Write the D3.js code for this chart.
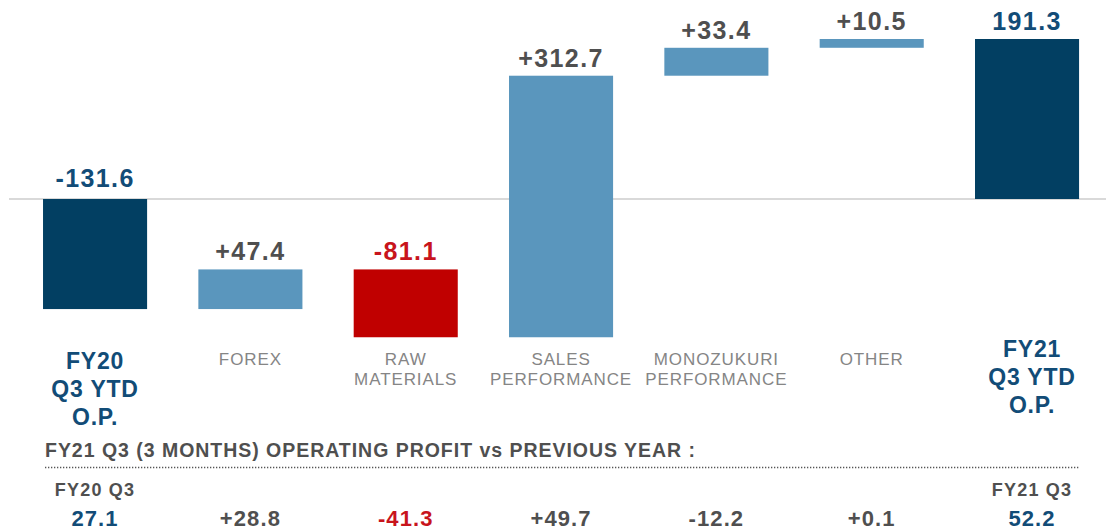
<!DOCTYPE html>
<html>
<head>
<meta charset="utf-8">
<script src="https://cdn.jsdelivr.net/npm/d3@7"></script>
<style>
  html, body { margin: 0; padding: 0; background: #ffffff; }
  svg { display: block; font-family: "Liberation Sans", Arial, Helvetica, sans-serif; }
</style>
</head>
<body>
<svg id="chart" width="1106" height="532"></svg>
<script>
// ---- data ----
const categories = ["FY20 Q3 YTD O.P.", "FOREX", "RAW MATERIALS", "SALES PERFORMANCE", "MONOZUKURI PERFORMANCE", "OTHER", "FY21 Q3 YTD O.P."];
const categoryLines = [["FY20", "Q3 YTD", "O.P."], ["FOREX"], ["RAW", "MATERIALS"], ["SALES", "PERFORMANCE"], ["MONOZUKURI", "PERFORMANCE"], ["OTHER"], ["FY21", "Q3 YTD", "O.P."]];
const barTypes = ["total", "delta", "delta", "delta", "delta", "delta", "total"];
const ytdValues = [-131.6, 47.4, -81.1, 312.7, 33.4, 10.5, 191.3];
const q3Values = [27.1, 28.8, -41.3, 49.7, -12.2, 0.1, 52.2];
const q3Headers = ["FY20 Q3", "", "", "", "", "", "FY21 Q3"];
const subtitle = "FY21 Q3 (3 MONTHS) OPERATING PROFIT vs PREVIOUS YEAR :";

// ---- colours ----
const NAVY = "#023f62", NAVY_TEXT = "#124c77", LIGHT = "#5a96bd", RED = "#c00000", RED_TEXT = "#c8141c";
const GRAY_TEXT = "#4f4f4f", CAT_TEXT = "#858585";

// ---- waterfall computation ----
let running = 0;
const bars = ytdValues.map((v, i) => {
  let y0, y1;
  if (barTypes[i] === "total") { y0 = 0; y1 = v; running = v; }
  else { y0 = running; y1 = running + v; running = y1; }
  return { cat: categories[i], lines: categoryLines[i], type: barTypes[i], value: v, y0, y1, q3: q3Values[i], head: q3Headers[i], i };
});

const svg = d3.select("#chart");
const x = d3.scaleBand().domain(categories).range([17.4, 1104.7]).paddingInner(0.33).paddingOuter(0.165);
const y = d3.scaleLinear().domain([0, 191.3]).range([199, 39]);

const fmtSigned = v => (v > 0 ? "+" : "") + v.toFixed(1);
const fmtTotal = v => v.toFixed(1);
const barColor = d => d.type === "total" ? NAVY : (d.value < 0 ? RED : LIGHT);
const labelColor = d => d.type === "total" ? NAVY_TEXT : (d.value < 0 ? RED_TEXT : GRAY_TEXT);
const cx = d => x(d.cat) + x.bandwidth() / 2 + (d.i === categories.length - 1 ? 5 : 0);

// zero line
svg.append("line")
  .attr("x1", 9).attr("x2", 1106)
  .attr("y1", y(0)).attr("y2", y(0))
  .attr("stroke", "#cdcdcd").attr("stroke-width", 1.6);

// bars
svg.append("g").selectAll("rect").data(bars).join("rect")
  .attr("x", d => x(d.cat))
  .attr("width", x.bandwidth())
  .attr("y", d => y(Math.max(d.y0, d.y1)))
  .attr("height", d => Math.abs(y(d.y0) - y(d.y1)))
  .attr("fill", barColor);

// value labels
svg.append("g").selectAll("text").data(bars).join("text")
  .attr("x", d => x(d.cat) + x.bandwidth() / 2)
  .attr("y", d => Math.min(y(d.y0), y(d.y1)) - (d.type === "total" && d.value < 0 ? 12 : 9))
  .attr("text-anchor", "middle")
  .attr("font-size", 25).attr("font-weight", "bold")
  .attr("letter-spacing", 1.4)
  .attr("fill", labelColor)
  .text(d => d.type === "total" ? fmtTotal(d.value) : fmtSigned(d.value));

// category labels
const catG = svg.append("g");
bars.forEach(d => {
  const isTotal = d.type === "total";
  const startY = isTotal ? (d.i === 0 ? 369 : 357) : 365;
  const lh = isTotal ? 27.8 : 20;
  const t = catG.append("text")
    .attr("text-anchor", "middle")
    .attr("font-size", isTotal ? 23 : 17)
    .attr("font-weight", isTotal ? "bold" : "normal")
    .attr("letter-spacing", isTotal ? 0.8 : 0.9)
    .attr("fill", isTotal ? NAVY_TEXT : CAT_TEXT);
  d.lines.forEach((ln, k) => {
    t.append("tspan").attr("x", cx(d)).attr("y", startY + k * lh).text(ln);
  });
});

// subtitle
svg.append("text")
  .attr("x", 45).attr("y", 457)
  .attr("font-size", 19.5).attr("font-weight", "bold")
  .attr("fill", GRAY_TEXT)
  .attr("textLength", 650).attr("lengthAdjust", "spacing")
  .text(subtitle);

// dotted separator
svg.append("line")
  .attr("x1", 45).attr("x2", 1080)
  .attr("y1", 467.5).attr("y2", 467.5)
  .attr("stroke", "#555").attr("stroke-width", 1.3)
  .attr("stroke-dasharray", "1.3,1.7");

// Q3 headers
svg.append("g").selectAll("text").data(bars.filter(d => d.head)).join("text")
  .attr("x", cx)
  .attr("y", 496)
  .attr("text-anchor", "middle")
  .attr("font-size", 18).attr("font-weight", "bold")
  .attr("letter-spacing", 1.2)
  .attr("fill", GRAY_TEXT)
  .text(d => d.head);

// Q3 values
svg.append("g").selectAll("text").data(bars).join("text")
  .attr("x", cx)
  .attr("y", 526)
  .attr("text-anchor", "middle")
  .attr("font-size", 22).attr("font-weight", "bold")
  .attr("letter-spacing", 1.1)
  .attr("fill", d => d.type === "total" ? NAVY_TEXT : (d.value < 0 ? RED_TEXT : GRAY_TEXT))
  .text(d => d.type === "total" ? fmtTotal(d.q3) : fmtSigned(d.q3));
</script>
</body>
</html>
